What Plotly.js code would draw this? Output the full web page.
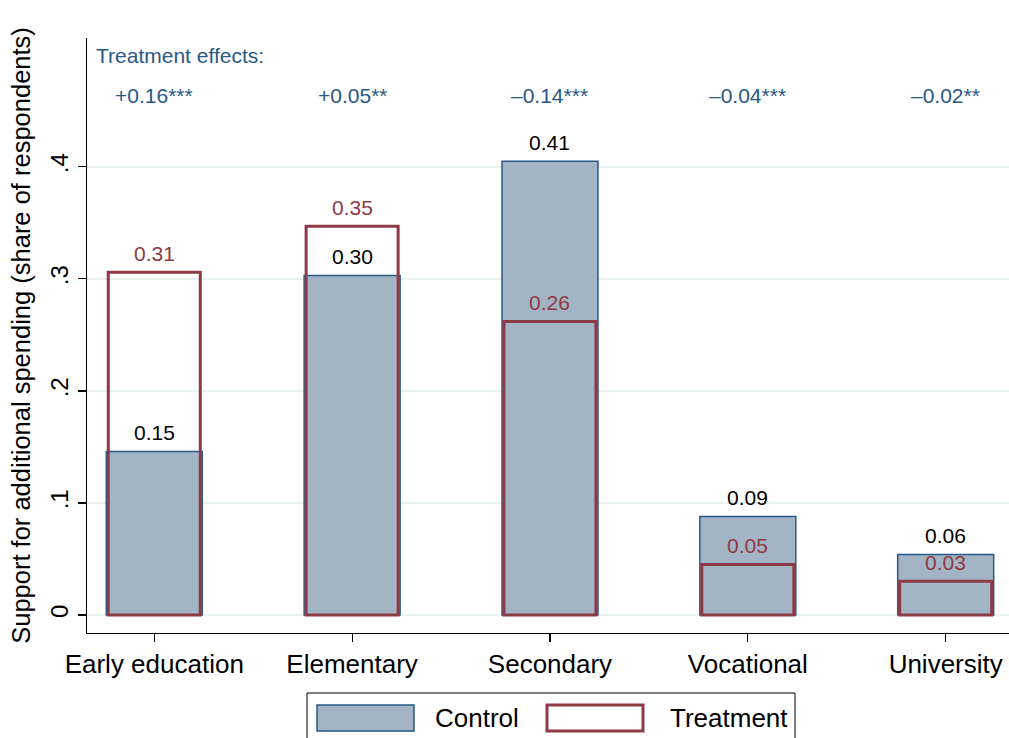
<!DOCTYPE html>
<html>
<head>
<meta charset="utf-8">
<script src="https://cdn.plot.ly/plotly-3.0.1.min.js"></script>
<style>html,body{margin:0;padding:0;background:#fff;}#chart{width:1009px;height:738px;}</style>
</head>
<body>
<div id="chart"></div>
<script>
const categories = ["Early education", "Elementary", "Secondary", "Vocational", "University"];
const controlValues = [0.146, 0.303, 0.405, 0.088, 0.054];
const treatmentValues = [0.306, 0.347, 0.262, 0.045, 0.030];
const controlLabels = ["0.15", "0.30", "0.41", "0.09", "0.06"];
const treatmentLabels = ["0.31", "0.35", "0.26", "0.05", "0.03"];
const effectLabels = ["+0.16***", "+0.05**", "\u20130.14***", "\u20130.04***", "\u20130.02**"];
const seriesNames = ["Control", "Treatment"];
const yTickVals = [0, 0.1, 0.2, 0.3, 0.4];
const yTickText = ["0", ".1", ".2", ".3", ".4"];

const navy = "#2a5886";
const red = "#8e3a44";
const fillBlue = "#a3b4c4";
const FONT = "Liberation Sans, Arial, sans-serif";

// plot area in pixels: left 87, right 1009, top 38, bottom 633
const L = 87, R = 1009, T = 38, B = 633;
const px = (x) => (x - L) / (R - L);
const py = (y) => (B - y) / (B - T);

const traces = [
  {
    type: "bar", name: seriesNames[0], x: categories, y: controlValues,
    width: 0.485,
    marker: {color: fillBlue, line: {color: navy, width: 1.5}},
    hoverinfo: "x+y"
  },
  {
    type: "bar", name: seriesNames[1], x: categories, y: treatmentValues,
    width: 0.465,
    marker: {color: "rgba(0,0,0,0)", line: {color: red, width: 3}},
    hoverinfo: "x+y"
  }
];

const annotations = [];
categories.forEach((c, i) => {
  annotations.push({
    x: c, y: controlValues[i], xref: "x", yref: "y", text: controlLabels[i], showarrow: false,
    yanchor: "middle", yshift: 19, font: {family: FONT, size: 21, color: "#000"}
  });
  annotations.push({
    x: c, y: treatmentValues[i], xref: "x", yref: "y", text: treatmentLabels[i], showarrow: false,
    yanchor: "middle", yshift: 19, font: {family: FONT, size: 21, color: red}
  });
  annotations.push({
    x: c, y: 0.464, xref: "x", yref: "y", text: effectLabels[i], showarrow: false,
    font: {family: FONT, size: 21, color: navy}, xanchor: "center", yanchor: "middle"
  });
});
annotations.push({
  x: px(94), y: py(55), xref: "paper", yref: "paper", text: "Treatment effects:",
  showarrow: false, xanchor: "left", yanchor: "middle",
  font: {family: FONT, size: 21, color: navy}
});
// custom legend
annotations.push({
  x: px(433), y: py(718), xref: "paper", yref: "paper", text: seriesNames[0],
  showarrow: false, xanchor: "left", yanchor: "middle",
  font: {family: FONT, size: 26, color: "#000"}
});
annotations.push({
  x: px(668), y: py(718), xref: "paper", yref: "paper", text: seriesNames[1],
  showarrow: false, xanchor: "left", yanchor: "middle",
  font: {family: FONT, size: 26, color: "#000"}
});

const shapes = [
  {type: "rect", xref: "paper", yref: "paper", x0: px(307), x1: px(795), y0: py(742), y1: py(693),
   line: {color: "#000", width: 1}, fillcolor: "rgba(0,0,0,0)"},
  {type: "rect", xref: "paper", yref: "paper", x0: px(317), x1: px(414), y0: py(731), y1: py(705),
   line: {color: navy, width: 1.5}, fillcolor: fillBlue},
  {type: "rect", xref: "paper", yref: "paper", x0: px(547), x1: px(643), y0: py(731), y1: py(705),
   line: {color: red, width: 3}, fillcolor: "#fff"}
];

const layout = {
  width: 1009, height: 738,
  margin: {l: L, r: 1009 - R, t: T, b: 738 - B, pad: 0},
  paper_bgcolor: "#fff", plot_bgcolor: "#fff",
  barmode: "overlay",
  showlegend: false,
  font: {family: FONT, color: "#000"},
  xaxis: {
    type: "category", range: [-0.34, 4.32],
    showline: true, linecolor: "#000", linewidth: 1.2,
    ticks: "outside", ticklen: 8, tickcolor: "#000", tickwidth: 1.2,
    showgrid: false, zeroline: false,
    tickfont: {family: FONT, size: 26, color: "#000"}
  },
  yaxis: {
    range: [-0.0161, 0.515],
    tickvals: yTickVals, ticktext: yTickText, tickangle: -90,
    showline: true, linecolor: "#000", linewidth: 1.2,
    ticks: "outside", ticklen: 8, tickcolor: "#000", tickwidth: 1.2,
    showgrid: true, gridcolor: "#e8f0f2", gridwidth: 1.5, zeroline: false,
    tickfont: {family: FONT, size: 24, color: "#000"},
    title: {text: "Support for additional spending (share of respondents)", standoff: 8,
            font: {family: FONT, size: 25.5, color: "#000"}}
  },
  annotations: annotations,
  shapes: shapes
};

Plotly.newPlot("chart", traces, layout, {displayModeBar: false, staticPlot: true});
</script>
</body>
</html>
